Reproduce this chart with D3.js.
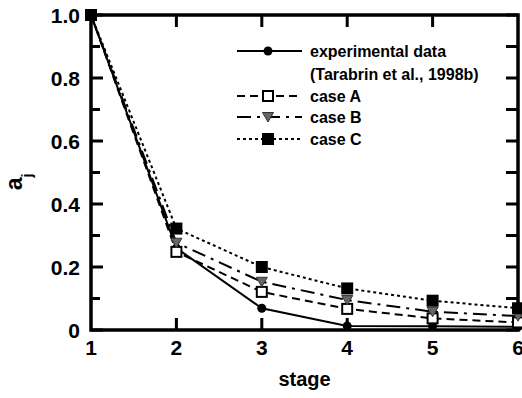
<!DOCTYPE html>
<html>
<head>
<meta charset="utf-8">
<script src="https://cdnjs.cloudflare.com/ajax/libs/d3/7.8.5/d3.min.js"></script>
<style>
  body { margin: 0; background: #fff; }
  svg { display: block; font-family: "Liberation Sans", Arial, sans-serif; font-weight: bold; }
</style>
</head>
<body>
<svg id="chart"></svg>
<script>
(function() {

  const stages = [1, 2, 3, 4, 5, 6]
  const experimental = [1.0, 0.26, 0.069, 0.013, 0.012, 0.01]
  const caseA = [1.0, 0.248, 0.121, 0.067, 0.037, 0.024]
  const caseB = [1.0, 0.277, 0.153, 0.095, 0.058, 0.044]
  const caseC = [1.0, 0.322, 0.2, 0.132, 0.093, 0.069]
  const yTicks = [0, 0.2, 0.4, 0.6, 0.8, 1.0]
  const yTickLabels = ['0', '0.2', '0.4', '0.6', '0.8', '1.0']
  const yMinorTicks = [0.1, 0.3, 0.5, 0.7, 0.9]
  const xInnerTicks = [2, 3, 4, 5]

  const series = [
    {name: 'experimental data', values: experimental, dash: null, marker: 'circle'},
    {name: 'case A', values: caseA, dash: '8,5', marker: 'openSquare'},
    {name: 'case B', values: caseB, dash: '14,6,3,6', marker: 'triangle'},
    {name: 'case C', values: caseC, dash: '3,3', marker: 'square'}
  ]

  const svgWidth = 522
  const svgHeight = 398
  const margin = {top: 15, right: 4, bottom: 68, left: 91}
  const width = svgWidth - margin.left - margin.right
  const height = svgHeight - margin.top - margin.bottom

  const svg = d3.select('#chart')
    .attr('width', svgWidth)
    .attr('height', svgHeight)

  const g = svg.append('g')
    .attr('transform', `translate(${margin.left},${margin.top})`)

  const x = d3.scaleLinear().domain([1, 6]).range([0, width])
  const y = d3.scaleLinear().domain([0, 1]).range([height, 0])

  // frame
  g.append('rect')
    .attr('width', width)
    .attr('height', height)
    .attr('fill', 'none')
    .attr('stroke', '#000')
    .attr('stroke-width', 3.5)

  // inward ticks on all four sides, as small filled rects from the scales
  const tickW = 3
  const tg = g.append('g').attr('fill', '#000')

  tg.selectAll('.xb')
    .data(xInnerTicks)
    .enter().append('rect')
    .attr('x', d => x(d) - tickW / 2).attr('y', height - 12)
    .attr('width', tickW).attr('height', 12)

  tg.selectAll('.xt')
    .data(xInnerTicks)
    .enter().append('rect')
    .attr('x', d => x(d) - tickW / 2).attr('y', 0)
    .attr('width', tickW).attr('height', 12)

  tg.selectAll('.yl')
    .data(yTicks.concat(yMinorTicks))
    .enter().append('rect')
    .attr('x', 0).attr('y', d => y(d) - tickW / 2)
    .attr('width', d => yMinorTicks.includes(d) ? 9 : 12).attr('height', tickW)

  tg.selectAll('.yr')
    .data(yTicks.concat(yMinorTicks))
    .enter().append('rect')
    .attr('x', width - 12).attr('y', d => y(d) - tickW / 2)
    .attr('width', 12).attr('height', tickW)

  g.selectAll('.xlabel')
    .data(stages)
    .enter().append('text')
    .attr('x', d => x(d))
    .attr('y', height + 25)
    .attr('text-anchor', 'middle')
    .style('font-size', '21px')
    .text(d => d)

  g.selectAll('.ylabel')
    .data(yTicks)
    .enter().append('text')
    .attr('x', -11)
    .attr('y', d => y(d) + 7.5)
    .attr('text-anchor', 'end')
    .style('font-size', '21px')
    .text((d, i) => yTickLabels[i])

  const line = d3.line()
    .x((d, i) => x(stages[i]))
    .y(d => y(d))

  function drawMarker(sel, type) {
    if (type === 'circle') {
      sel.append('circle').attr('r', 4.5).attr('fill', '#000')
    } else if (type === 'openSquare') {
      sel.append('rect').attr('x', -5).attr('y', -5).attr('width', 10).attr('height', 10)
        .attr('fill', '#fff').attr('stroke', '#000').attr('stroke-width', 2)
    } else if (type === 'triangle') {
      sel.append('path').attr('d', 'M-5.5,-4.5L5.5,-4.5L0,5z')
        .attr('fill', '#666').attr('stroke', '#333').attr('stroke-width', 1)
    } else {
      sel.append('rect').attr('x', -6).attr('y', -6).attr('width', 12).attr('height', 12)
        .attr('fill', '#000')
    }
  }

  series.forEach(s => {
    g.append('path')
      .datum(s.values)
      .attr('d', line)
      .attr('fill', 'none')
      .attr('stroke', '#000')
      .attr('stroke-width', 2)
      .attr('stroke-dasharray', s.dash)
  })

  // markers over all lines; experimental drawn first so the cases sit on top
  series.forEach(s => {
    g.selectAll(null)
      .data(s.values)
      .enter()
      .append('g')
      .attr('transform', (d, i) => `translate(${x(stages[i])},${y(d)})`)
      .each(function() { drawMarker(d3.select(this), s.marker) })
  })

  // legend
  const legendRows = [
    {s: series[0], y: 51, labels: ['experimental data', '(Tarabrin et al., 1998b)']},
    {s: series[1], y: 96, labels: ['case A']},
    {s: series[2], y: 117, labels: ['case B']},
    {s: series[3], y: 139, labels: ['case C']}
  ]

  const legend = svg.append('g')
  legendRows.forEach(r => {
    legend.append('line')
      .attr('x1', 237).attr('x2', 302)
      .attr('y1', r.y).attr('y2', r.y)
      .attr('stroke', '#000')
      .attr('stroke-width', 2)
      .attr('stroke-dasharray', r.s.dash)
    const m = legend.append('g').attr('transform', `translate(268,${r.y})`)
    drawMarker(m, r.s.marker)
    r.labels.forEach((t, k) => {
      legend.append('text')
        .attr('x', 310)
        .attr('y', r.y + 6 + k * 23)
        .style('font-size', '16px')
        .text(t)
    })
  })

  svg.append('text')
    .attr('x', margin.left + width / 2)
    .attr('y', 386)
    .attr('text-anchor', 'middle')
    .style('font-size', '20px')
    .text('stage')

  const yLabel = svg.append('text')
    .attr('transform', 'translate(22,182) rotate(-90)')
    .attr('text-anchor', 'middle')
    .style('font-size', '23px')
  yLabel.append('tspan').text('a')
  yLabel.append('tspan').attr('dy', 10).style('font-size', '14px').text('j')

})()
</script>
</body>
</html>
